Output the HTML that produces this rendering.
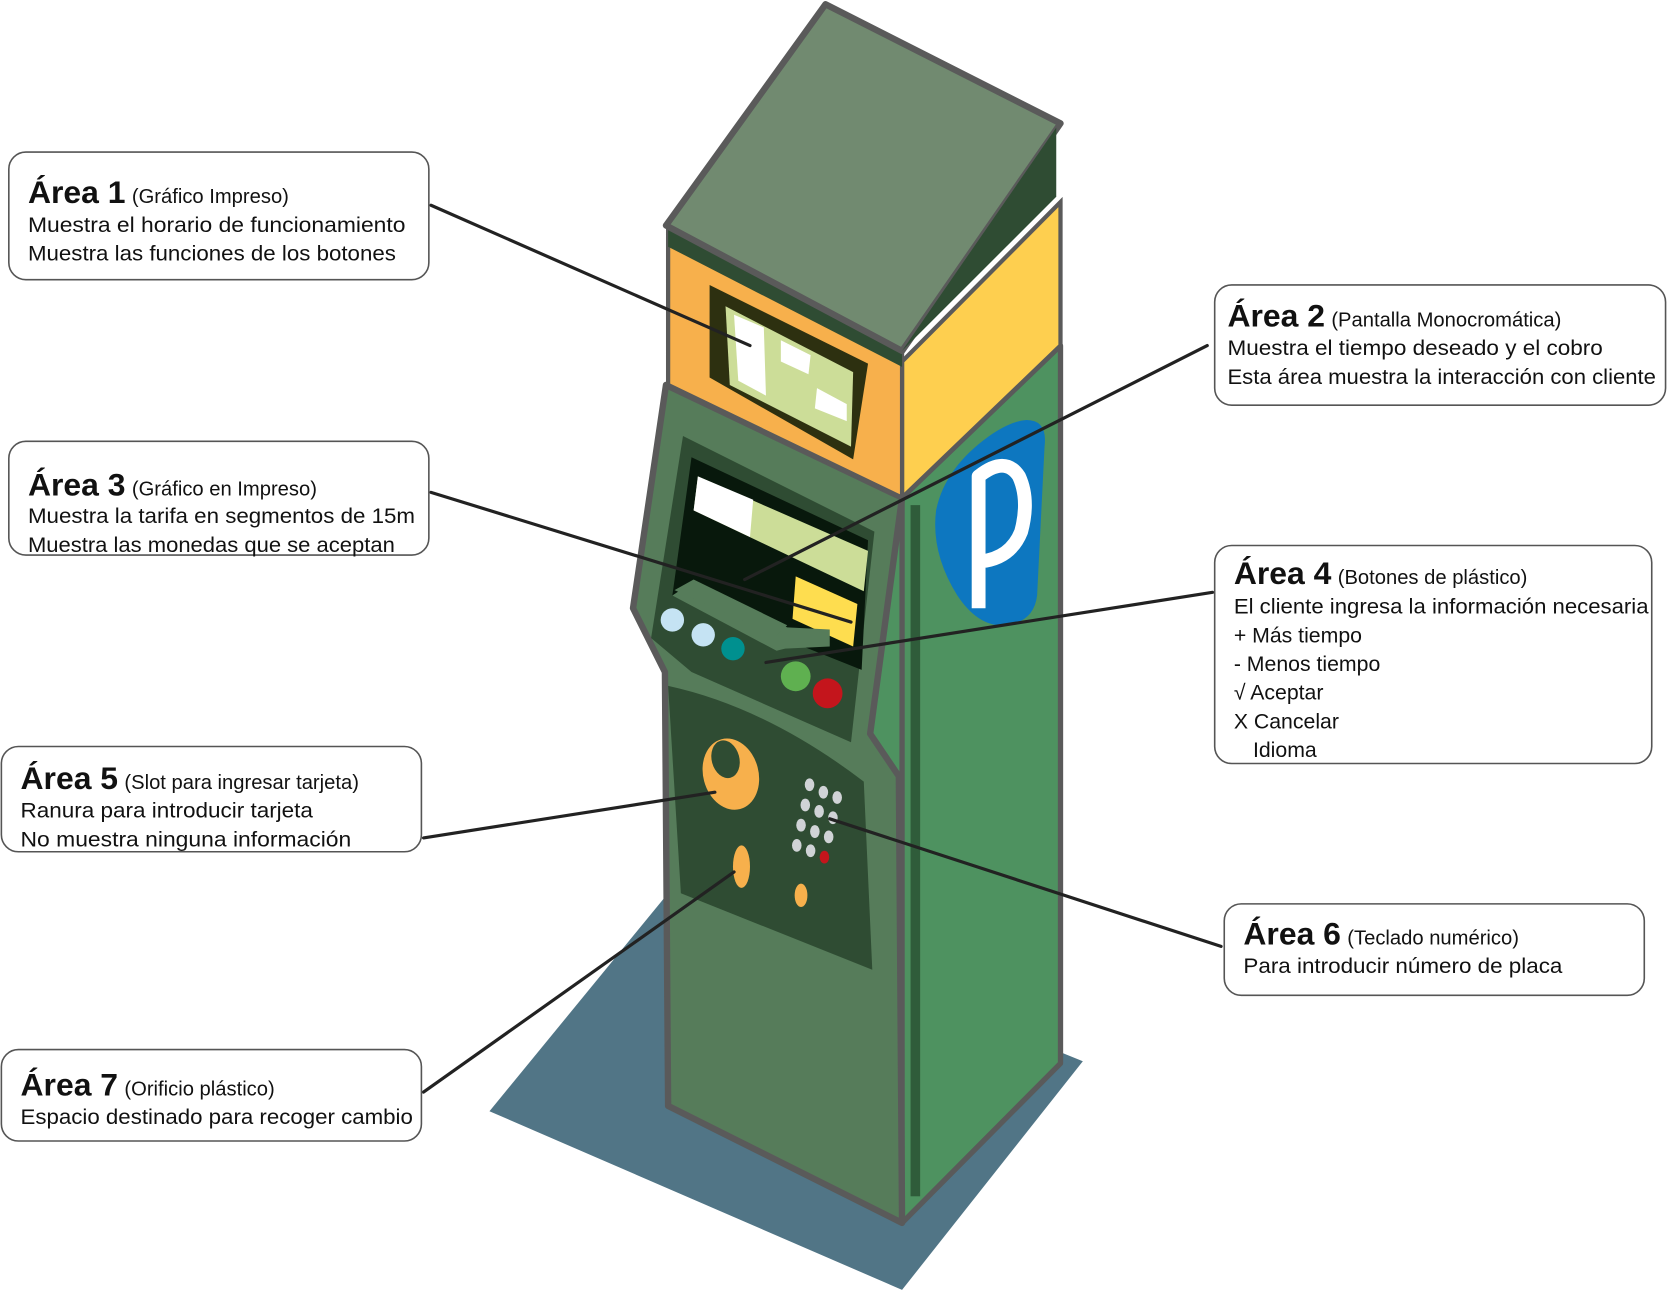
<!DOCTYPE html>
<html><head><meta charset="utf-8"><style>
html,body{margin:0;padding:0;background:#fff;}
svg{display:block;}
text{font-family:"Liberation Sans",sans-serif;fill:#111;}
.t{font-weight:bold;font-size:30px;}
.s{font-size:19px;}
.b{font-size:20px;}
</style></head><body>
<svg width="1668" height="1292" viewBox="0 0 1568 1215" xmlns="http://www.w3.org/2000/svg">
<polygon points="460,1045 628,840 1018,998 848,1213" fill="#517586"/>
<!-- right side -->
<polygon points="815,500 848,468 997,325 997,1000 848,1150 815,1130" fill="#4e9260"/>
<polygon points="848,468 997,325 997,1000 848,1150" fill="#4e9260" stroke="#5a5a5a" stroke-width="5" stroke-linejoin="round"/>
<rect x="856" y="475" width="9" height="650" fill="#2f5c3a"/>
<path d="M965,395 Q985,395 982,420 L975,560 Q972,585 945,588 Q920,590 900,560 Q875,520 880,480 Q888,440 930,410 Q950,396 965,395 Z" fill="#0d77c0"/>
<path d="M920,572 L920,448 Q945,428 958,448 Q968,470 960,500 Q950,525 922,528" fill="none" stroke="#fff" stroke-width="13" stroke-linejoin="round"/>
<polygon points="848,340 997,190 997,325 848,468" fill="#fecf4f" stroke="#5a5a5a" stroke-width="4"/>
<!-- front body -->
<polygon points="626,362 848,468 818,690 845,730 848,1150 628,1040 625,632 595,572" fill="#567c5a" stroke="#5a5a5a" stroke-width="6" stroke-linejoin="round"/>
<polygon points="628,218 848,332 848,468 628,362" fill="#f7b04c" stroke="#5a5a5a" stroke-width="4"/>
<polygon points="628,212 848,330 848,345 628,232" fill="#2f4c33"/>
<polygon points="667,268 816,342 802,432 667,355" fill="#2d3010"/>
<polygon points="682,288 802,350 800,420 686,362" fill="#ccdd98"/>
<polygon points="690,296 718,308 720,372 694,358" fill="#fff"/>
<polygon points="734,320 762,334 760,352 734,340" fill="#fff"/>
<polygon points="768,365 796,380 796,396 766,384" fill="#fff"/>
<polygon points="626,212 776,4 997,116 848,330" fill="#718a70" stroke="#5a5a5a" stroke-width="6" stroke-linejoin="round"/>
<polygon points="848,330 993,120 993,185" fill="#2f4c33"/>
<!-- panel 2 -->
<polygon points="642,410 822,500 800,698 650,632 612,600" fill="#2f4c33"/>
<polygon points="650,430 816,508 810,630 740,602 632,560" fill="#08180c"/>
<polygon points="656,448 816,518 812,556 652,480" fill="#ccdd98"/>
<polygon points="656,448 708,470 705,505 652,480" fill="#fff"/>
<polygon points="748,542 806,568 802,608 745,582" fill="#fedd4f"/>
<polygon points="632,560 650,548 740,590 780,592 780,608 738,610 730,612" fill="#567c5a"/>
<polygon points="634,555 652,545 740,588 730,598" fill="#567c5a"/>
<circle cx="632" cy="583" r="11" fill="#c5e3f3"/>
<circle cx="661" cy="597" r="11" fill="#c5e3f3"/>
<circle cx="689" cy="610" r="11" fill="#00908f"/>
<circle cx="748" cy="636" r="14" fill="#5fb050"/>
<circle cx="778" cy="652" r="14" fill="#c4151c"/>
<!-- lower panel -->
<path d="M628,645 Q720,665 812,735 L820,912 L640,840 Z" fill="#2f4c33"/>
<ellipse cx="687" cy="728" rx="26" ry="34" fill="#f7b04c" transform="rotate(-15 687 728)"/>
<ellipse cx="682" cy="714" rx="13" ry="18" fill="#2f4c33" transform="rotate(-15 682 714)"/>
<ellipse cx="697" cy="815" rx="8" ry="20" fill="#f7b04c"/>
<ellipse cx="753" cy="842" rx="6" ry="11" fill="#f7b04c"/>
<g fill="#d0d3d6">
<ellipse cx="761" cy="738" rx="4.5" ry="6"/><ellipse cx="774" cy="745" rx="4.5" ry="6"/><ellipse cx="787" cy="750" rx="4.5" ry="6"/>
<ellipse cx="757" cy="757" rx="4.5" ry="6"/><ellipse cx="770" cy="763" rx="4.5" ry="6"/><ellipse cx="783" cy="769" rx="4.5" ry="6"/>
<ellipse cx="753" cy="776" rx="4.5" ry="6"/><ellipse cx="766" cy="782" rx="4.5" ry="6"/><ellipse cx="779" cy="787" rx="4.5" ry="6"/>
<ellipse cx="749" cy="795" rx="4.5" ry="6"/><ellipse cx="762" cy="800" rx="4.5" ry="6"/>
</g>
<ellipse cx="775" cy="806" rx="4.5" ry="6" fill="#c4151c"/>
<g stroke="#222" stroke-width="3" fill="none" stroke-linecap="round">
<line x1="405" y1="193" x2="705" y2="325"/>
<line x1="1135" y1="325" x2="700" y2="545"/>
<line x1="405" y1="463" x2="800" y2="585"/>
<line x1="1140" y1="557" x2="720" y2="623"/>
<line x1="398" y1="788" x2="672" y2="745"/>
<line x1="1148" y1="890" x2="780" y2="770"/>
<line x1="398" y1="1027" x2="690" y2="820"/>
</g>
<g fill="#fff" stroke="#555" stroke-width="1.5">
<rect x="8" y="143" width="395" height="120" rx="16"/>
<rect x="1142" y="268" width="424" height="113" rx="16"/>
<rect x="8" y="415" width="395" height="107" rx="16"/>
<rect x="1142" y="513" width="411" height="205" rx="16"/>
<rect x="1" y="702" width="395" height="99" rx="16"/>
<rect x="1151" y="850" width="395" height="86" rx="16"/>
<rect x="1" y="987" width="395" height="86" rx="16"/>
</g>
<g>
<text x="26" y="191"><tspan class="t">Área 1</tspan><tspan class="s" dx="6">(Gráfico Impreso)</tspan></text>
<text class="b" x="26" y="218" textLength="355" lengthAdjust="spacingAndGlyphs">Muestra el horario de funcionamiento</text>
<text class="b" x="26" y="245" textLength="346" lengthAdjust="spacingAndGlyphs">Muestra las funciones de los botones</text>
<text x="1154" y="307"><tspan class="t">Área 2</tspan><tspan class="s" dx="6">(Pantalla Monocromática)</tspan></text>
<text class="b" x="1154" y="334" textLength="353" lengthAdjust="spacingAndGlyphs">Muestra el tiempo deseado y el cobro</text>
<text class="b" x="1154" y="361" textLength="403" lengthAdjust="spacingAndGlyphs">Esta área muestra la interacción con cliente</text>
<text x="26" y="466"><tspan class="t">Área 3</tspan><tspan class="s" dx="6">(Gráfico en Impreso)</tspan></text>
<text class="b" x="26" y="492" textLength="364" lengthAdjust="spacingAndGlyphs">Muestra la tarifa en segmentos de 15m</text>
<text class="b" x="26" y="519" textLength="345" lengthAdjust="spacingAndGlyphs">Muestra las monedas que se aceptan</text>
<text x="1160" y="549"><tspan class="t">Área 4</tspan><tspan class="s" dx="6">(Botones de plástico)</tspan></text>
<text class="b" x="1160" y="577" textLength="390" lengthAdjust="spacingAndGlyphs">El cliente ingresa la información necesaria</text>
<text class="b" x="1160" y="604">+ Más tiempo</text>
<text class="b" x="1160" y="631">-  Menos tiempo</text>
<text class="b" x="1160" y="658">√ Aceptar</text>
<text class="b" x="1160" y="685">X Cancelar</text>
<text class="b" x="1178" y="712">Idioma</text>
<text x="19" y="742"><tspan class="t">Área 5</tspan><tspan class="s" dx="6">(Slot para ingresar tarjeta)</tspan></text>
<text class="b" x="19" y="769" textLength="275" lengthAdjust="spacingAndGlyphs">Ranura para introducir tarjeta</text>
<text class="b" x="19" y="796" textLength="311" lengthAdjust="spacingAndGlyphs">No muestra ninguna información</text>
<text x="1169" y="888"><tspan class="t">Área 6</tspan><tspan class="s" dx="6">(Teclado numérico)</tspan></text>
<text class="b" x="1169" y="915" textLength="300" lengthAdjust="spacingAndGlyphs">Para introducir número de placa</text>
<text x="19" y="1030"><tspan class="t">Área 7</tspan><tspan class="s" dx="6">(Orificio plástico)</tspan></text>
<text class="b" x="19" y="1057" textLength="369" lengthAdjust="spacingAndGlyphs">Espacio destinado para recoger cambio</text>
</g>
</svg>
</body></html>
